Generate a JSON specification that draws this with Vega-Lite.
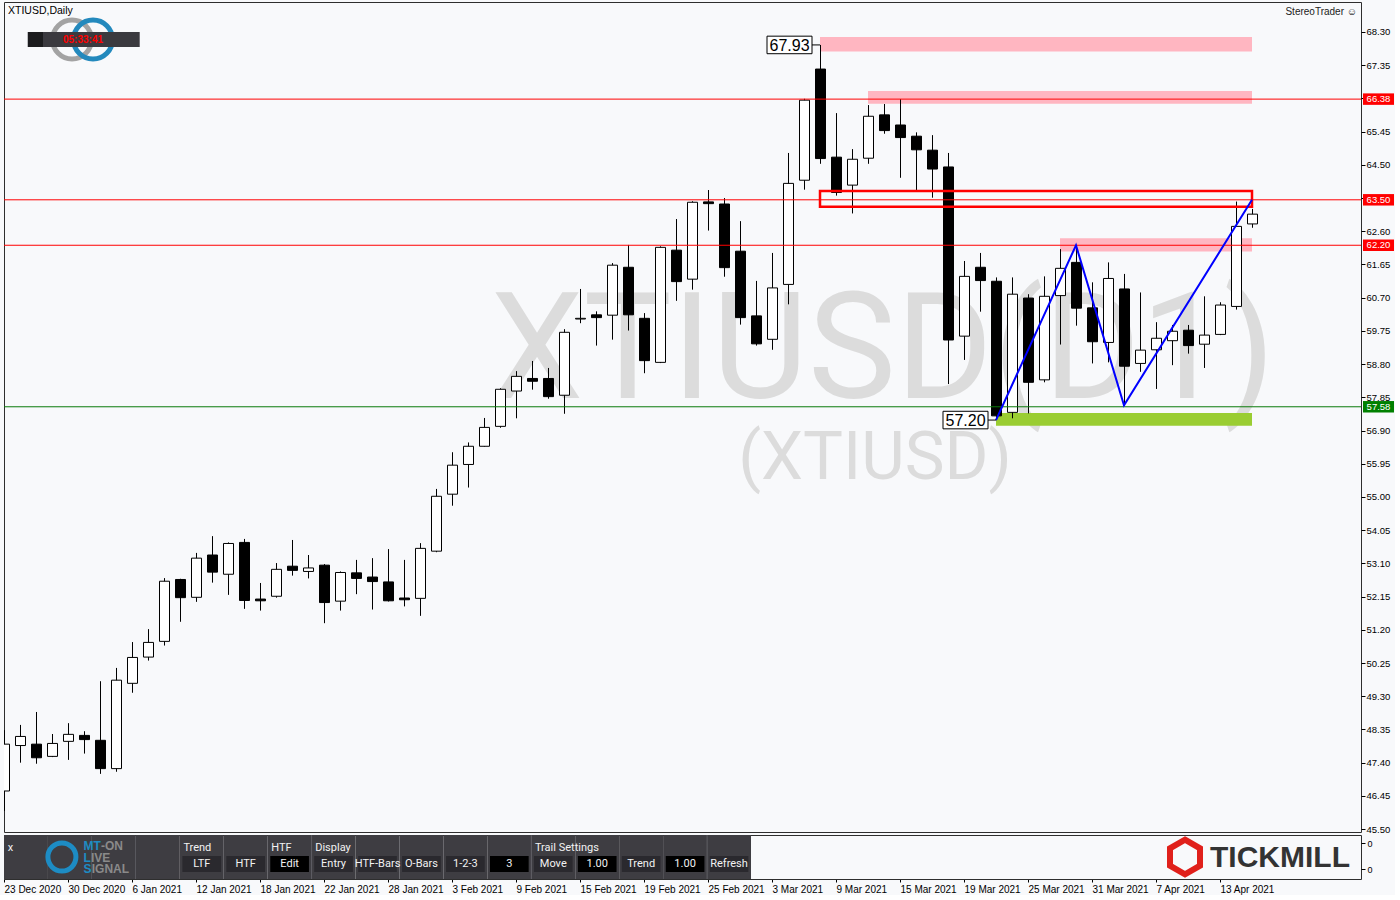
{
  "$schema": "https://vega.github.io/schema/vega-lite/v6.json",
  "background": "#f8f9fb",
  "padding": {"left": 3, "top": 1, "right": 0, "bottom": 0},
  "config": {"font": "Liberation Sans", "view": {"stroke": "#2e2e2e", "strokeWidth": 1}},
  "spacing": 3,
  "bounds": "flush",
  "datasets": {
    "candles": [
      {"date": "23 Dec 2020", "open": 46.59, "high": 48.33, "low": 46.02, "close": 47.93},
      {"date": "24 Dec 2020", "open": 47.89, "high": 48.48, "low": 47.40, "close": 48.15},
      {"date": "28 Dec 2020", "open": 47.93, "high": 48.85, "low": 47.37, "close": 47.54},
      {"date": "29 Dec 2020", "open": 47.58, "high": 48.22, "low": 47.56, "close": 47.95},
      {"date": "30 Dec 2020", "open": 48.01, "high": 48.53, "low": 47.48, "close": 48.21},
      {"date": "31 Dec 2020", "open": 48.18, "high": 48.30, "low": 47.66, "close": 48.06},
      {"date": "4 Jan 2021", "open": 48.04, "high": 49.73, "low": 47.08, "close": 47.23},
      {"date": "5 Jan 2021", "open": 47.23, "high": 50.11, "low": 47.14, "close": 49.76},
      {"date": "6 Jan 2021", "open": 49.67, "high": 50.85, "low": 49.40, "close": 50.41},
      {"date": "7 Jan 2021", "open": 50.42, "high": 51.22, "low": 50.32, "close": 50.84},
      {"date": "8 Jan 2021", "open": 50.87, "high": 52.68, "low": 50.75, "close": 52.59},
      {"date": "11 Jan 2021", "open": 52.64, "high": 52.66, "low": 51.43, "close": 52.12},
      {"date": "12 Jan 2021", "open": 52.13, "high": 53.40, "low": 52.00, "close": 53.25},
      {"date": "13 Jan 2021", "open": 53.34, "high": 53.88, "low": 52.55, "close": 52.85},
      {"date": "14 Jan 2021", "open": 52.79, "high": 53.70, "low": 52.20, "close": 53.67},
      {"date": "15 Jan 2021", "open": 53.70, "high": 53.80, "low": 51.80, "close": 52.04},
      {"date": "18 Jan 2021", "open": 52.08, "high": 52.54, "low": 51.75, "close": 52.03},
      {"date": "19 Jan 2021", "open": 52.16, "high": 53.11, "low": 52.12, "close": 52.93},
      {"date": "20 Jan 2021", "open": 53.02, "high": 53.77, "low": 52.75, "close": 52.90},
      {"date": "21 Jan 2021", "open": 52.87, "high": 53.34, "low": 52.67, "close": 52.97},
      {"date": "22 Jan 2021", "open": 53.05, "high": 53.08, "low": 51.39, "close": 51.98},
      {"date": "25 Jan 2021", "open": 52.02, "high": 52.87, "low": 51.75, "close": 52.84},
      {"date": "26 Jan 2021", "open": 52.83, "high": 53.20, "low": 52.22, "close": 52.67},
      {"date": "27 Jan 2021", "open": 52.71, "high": 53.25, "low": 51.78, "close": 52.58},
      {"date": "28 Jan 2021", "open": 52.57, "high": 53.51, "low": 52.01, "close": 52.03},
      {"date": "29 Jan 2021", "open": 52.11, "high": 53.20, "low": 51.87, "close": 52.06},
      {"date": "1 Feb 2021", "open": 52.10, "high": 53.68, "low": 51.60, "close": 53.53},
      {"date": "2 Feb 2021", "open": 53.45, "high": 55.23, "low": 53.42, "close": 55.02},
      {"date": "3 Feb 2021", "open": 55.08, "high": 56.28, "low": 54.75, "close": 55.91},
      {"date": "4 Feb 2021", "open": 55.93, "high": 56.56, "low": 55.27, "close": 56.45},
      {"date": "5 Feb 2021", "open": 56.45, "high": 57.26, "low": 56.44, "close": 56.99},
      {"date": "8 Feb 2021", "open": 57.02, "high": 58.11, "low": 56.98, "close": 58.08},
      {"date": "9 Feb 2021", "open": 58.03, "high": 58.60, "low": 57.25, "close": 58.45},
      {"date": "10 Feb 2021", "open": 58.39, "high": 58.89, "low": 58.07, "close": 58.31},
      {"date": "11 Feb 2021", "open": 58.39, "high": 58.69, "low": 57.81, "close": 57.87},
      {"date": "12 Feb 2021", "open": 57.91, "high": 59.80, "low": 57.38, "close": 59.71},
      {"date": "15 Feb 2021", "open": 60.09, "high": 60.95, "low": 59.97, "close": 60.11},
      {"date": "16 Feb 2021", "open": 60.21, "high": 60.31, "low": 59.33, "close": 60.13},
      {"date": "17 Feb 2021", "open": 60.20, "high": 61.69, "low": 59.50, "close": 61.63},
      {"date": "18 Feb 2021", "open": 61.57, "high": 62.21, "low": 59.76, "close": 60.21},
      {"date": "19 Feb 2021", "open": 60.11, "high": 60.26, "low": 58.54, "close": 58.90},
      {"date": "22 Feb 2021", "open": 58.85, "high": 62.17, "low": 58.83, "close": 62.14},
      {"date": "23 Feb 2021", "open": 62.06, "high": 62.95, "low": 60.61, "close": 61.16},
      {"date": "24 Feb 2021", "open": 61.23, "high": 63.46, "low": 60.93, "close": 63.43},
      {"date": "25 Feb 2021", "open": 63.44, "high": 63.78, "low": 62.62, "close": 63.39},
      {"date": "26 Feb 2021", "open": 63.38, "high": 63.55, "low": 61.30, "close": 61.56},
      {"date": "1 Mar 2021", "open": 62.03, "high": 62.89, "low": 59.93, "close": 60.13},
      {"date": "2 Mar 2021", "open": 60.18, "high": 61.18, "low": 59.33, "close": 59.38},
      {"date": "3 Mar 2021", "open": 59.51, "high": 61.98, "low": 59.21, "close": 60.98},
      {"date": "4 Mar 2021", "open": 61.08, "high": 64.84, "low": 60.51, "close": 63.97},
      {"date": "5 Mar 2021", "open": 64.06, "high": 66.39, "low": 63.79, "close": 66.35},
      {"date": "8 Mar 2021", "open": 67.24, "high": 67.93, "low": 64.53, "close": 64.68},
      {"date": "9 Mar 2021", "open": 64.72, "high": 65.98, "low": 63.62, "close": 63.71},
      {"date": "10 Mar 2021", "open": 63.92, "high": 64.95, "low": 63.11, "close": 64.66},
      {"date": "11 Mar 2021", "open": 64.69, "high": 66.21, "low": 64.53, "close": 65.89},
      {"date": "12 Mar 2021", "open": 65.93, "high": 66.24, "low": 65.39, "close": 65.48},
      {"date": "15 Mar 2021", "open": 65.64, "high": 66.38, "low": 64.13, "close": 65.28},
      {"date": "16 Mar 2021", "open": 65.32, "high": 65.43, "low": 63.77, "close": 64.93},
      {"date": "17 Mar 2021", "open": 64.92, "high": 65.35, "low": 63.56, "close": 64.38},
      {"date": "18 Mar 2021", "open": 64.44, "high": 64.84, "low": 58.23, "close": 59.49},
      {"date": "19 Mar 2021", "open": 59.60, "high": 61.75, "low": 58.92, "close": 61.31},
      {"date": "22 Mar 2021", "open": 61.57, "high": 61.98, "low": 60.30, "close": 61.19},
      {"date": "23 Mar 2021", "open": 61.17, "high": 61.28, "low": 57.20, "close": 57.32},
      {"date": "24 Mar 2021", "open": 57.42, "high": 61.28, "low": 57.25, "close": 60.80},
      {"date": "25 Mar 2021", "open": 60.69, "high": 60.80, "low": 57.39, "close": 58.28},
      {"date": "26 Mar 2021", "open": 58.35, "high": 61.31, "low": 58.28, "close": 60.74},
      {"date": "29 Mar 2021", "open": 60.76, "high": 62.09, "low": 59.36, "close": 61.54},
      {"date": "30 Mar 2021", "open": 61.71, "high": 62.21, "low": 59.90, "close": 60.40},
      {"date": "31 Mar 2021", "open": 60.41, "high": 61.14, "low": 58.82, "close": 59.44},
      {"date": "1 Apr 2021", "open": 59.42, "high": 61.71, "low": 58.85, "close": 61.25},
      {"date": "5 Apr 2021", "open": 60.95, "high": 61.38, "low": 57.61, "close": 58.74},
      {"date": "6 Apr 2021", "open": 58.82, "high": 60.85, "low": 58.58, "close": 59.20},
      {"date": "7 Apr 2021", "open": 59.21, "high": 60.00, "low": 58.09, "close": 59.54},
      {"date": "8 Apr 2021", "open": 59.47, "high": 59.92, "low": 58.77, "close": 59.74},
      {"date": "9 Apr 2021", "open": 59.77, "high": 59.92, "low": 59.10, "close": 59.33},
      {"date": "12 Apr 2021", "open": 59.37, "high": 60.74, "low": 58.69, "close": 59.63},
      {"date": "13 Apr 2021", "open": 59.65, "high": 60.57, "low": 59.63, "close": 60.49},
      {"date": "14 Apr 2021", "open": 60.45, "high": 63.45, "low": 60.36, "close": 62.74},
      {"date": "15 Apr 2021", "open": 62.81, "high": 63.24, "low": 62.70, "close": 63.09}
    ],
    "zones": [
      {"date": "8 Mar 2021", "end": "15 Apr 2021", "lo": 67.74, "hi": 68.16, "type": "supply"},
      {"date": "11 Mar 2021", "end": "15 Apr 2021", "lo": 66.25, "hi": 66.61, "type": "supply"},
      {"date": "29 Mar 2021", "end": "15 Apr 2021", "lo": 62.02, "hi": 62.40, "type": "supply"},
      {"date": "23 Mar 2021", "end": "15 Apr 2021", "lo": 57.04, "hi": 57.40, "type": "demand"}
    ],
    "levels": [
      {"date": "23 Dec 2020", "price": 66.38, "kind": "resistance"},
      {"date": "23 Dec 2020", "price": 63.50, "kind": "resistance"},
      {"date": "23 Dec 2020", "price": 62.20, "kind": "resistance"},
      {"date": "23 Dec 2020", "price": 57.58, "kind": "support"}
    ],
    "pivots": [
      {"date": "8 Mar 2021", "price": 67.93, "label": "67.93"},
      {"date": "23 Mar 2021", "price": 57.20, "label": "57.20"}
    ],
    "zigzag": [
      {"date": "23 Mar 2021", "price": 57.20, "step": 1},
      {"date": "30 Mar 2021", "price": 62.20, "step": 2},
      {"date": "5 Apr 2021", "price": 57.62, "step": 3},
      {"date": "15 Apr 2021", "price": 63.50, "step": 4}
    ],
    "slots": [
      {"slot": "close"}, {"slot": "logo1"}, {"slot": "logo2"}, {"slot": "logo3"}, {"slot": "LTF"}, {"slot": "HTF"}, {"slot": "Edit"}, {"slot": "Entry"}, {"slot": "HTF-Bars"}, {"slot": "O-Bars"}, {"slot": "1-2-3"}, {"slot": "three"}, {"slot": "Move"}, {"slot": "move-val"}, {"slot": "Trend"}, {"slot": "trend-val"}, {"slot": "Refresh"}
    ],
    "buttons": [
      {"slot": "LTF", "label": "LTF", "kind": "button"},
      {"slot": "HTF", "label": "HTF", "kind": "button"},
      {"slot": "Edit", "label": "Edit", "kind": "value"},
      {"slot": "Entry", "label": "Entry", "kind": "button"},
      {"slot": "HTF-Bars", "label": "HTF-Bars", "kind": "button"},
      {"slot": "O-Bars", "label": "O-Bars", "kind": "button"},
      {"slot": "1-2-3", "label": "1-2-3", "kind": "button"},
      {"slot": "three", "label": "3", "kind": "value"},
      {"slot": "Move", "label": "Move", "kind": "button"},
      {"slot": "move-val", "label": "1.00", "kind": "value"},
      {"slot": "Trend", "label": "Trend", "kind": "button"},
      {"slot": "trend-val", "label": "1.00", "kind": "value"},
      {"slot": "Refresh", "label": "Refresh", "kind": "button"}
    ],
    "groups": [
      {"slot": "close", "label": "x"},
      {"slot": "LTF", "label": "Trend"},
      {"slot": "Edit", "label": "HTF"},
      {"slot": "Entry", "label": "Display"},
      {"slot": "Move", "label": "Trail Settings"}
    ],
    "separators": [{"slot": "Entry"}, {"slot": "Move"}, {"slot": "Refresh"}]
  },
  "vconcat": [
    {
      "width": 1357,
      "height": 830,
      "resolve": {"scale": {"color": "independent"}},
      "encoding": {
        "x": {
          "field": "date", "type": "ordinal",
          "scale": {"type": "point", "padding": 0, "range": [0, 1248],
            "domain": ["23 Dec 2020","24 Dec 2020","28 Dec 2020","29 Dec 2020","30 Dec 2020","31 Dec 2020","4 Jan 2021","5 Jan 2021","6 Jan 2021","7 Jan 2021","8 Jan 2021","11 Jan 2021","12 Jan 2021","13 Jan 2021","14 Jan 2021","15 Jan 2021","18 Jan 2021","19 Jan 2021","20 Jan 2021","21 Jan 2021","22 Jan 2021","25 Jan 2021","26 Jan 2021","27 Jan 2021","28 Jan 2021","29 Jan 2021","1 Feb 2021","2 Feb 2021","3 Feb 2021","4 Feb 2021","5 Feb 2021","8 Feb 2021","9 Feb 2021","10 Feb 2021","11 Feb 2021","12 Feb 2021","15 Feb 2021","16 Feb 2021","17 Feb 2021","18 Feb 2021","19 Feb 2021","22 Feb 2021","23 Feb 2021","24 Feb 2021","25 Feb 2021","26 Feb 2021","1 Mar 2021","2 Mar 2021","3 Mar 2021","4 Mar 2021","5 Mar 2021","8 Mar 2021","9 Mar 2021","10 Mar 2021","11 Mar 2021","12 Mar 2021","15 Mar 2021","16 Mar 2021","17 Mar 2021","18 Mar 2021","19 Mar 2021","22 Mar 2021","23 Mar 2021","24 Mar 2021","25 Mar 2021","26 Mar 2021","29 Mar 2021","30 Mar 2021","31 Mar 2021","1 Apr 2021","5 Apr 2021","6 Apr 2021","7 Apr 2021","8 Apr 2021","9 Apr 2021","12 Apr 2021","13 Apr 2021","14 Apr 2021","15 Apr 2021"]},
          "axis": {
            "orient": "bottom", "offset": 47, "title": null, "domain": false, "grid": false,
            "values": ["23 Dec 2020","30 Dec 2020","6 Jan 2021","12 Jan 2021","18 Jan 2021","22 Jan 2021","28 Jan 2021","3 Feb 2021","9 Feb 2021","15 Feb 2021","19 Feb 2021","25 Feb 2021","3 Mar 2021","9 Mar 2021","15 Mar 2021","19 Mar 2021","25 Mar 2021","31 Mar 2021","7 Apr 2021","13 Apr 2021"],
            "labelAngle": 0, "labelAlign": "left", "labelBaseline": "top", "labelPadding": 2, "labelFontSize": 10, "labelColor": "#000000",
            "labelOverlap": false, "labelFlush": false, "tickSize": 3, "tickColor": "#000000"
          }
        },
        "y": {
          "field": "price", "type": "quantitative", "title": null,
          "scale": {"domain": [45.417, 69.158], "nice": false, "zero": false},
          "axis": {
            "orient": "right", "title": null, "domain": false, "grid": false,
            "values": [45.5,46.45,47.4,48.35,49.3,50.25,51.2,52.15,53.1,54.05,55,55.95,56.9,57.85,58.8,59.75,60.7,61.65,62.6,63.55,64.5,65.45,66.4,67.35,68.3],
            "format": ".2f", "labelFontSize": 9.5, "labelColor": "#000000", "labelPadding": 1,
            "labelOverlap": false, "labelFlush": false, "tickSize": 4, "tickColor": "#000000"
          }
        }
      },
      "layer": [
        {
          "data": {"values": [{"date": "12 Mar 2021", "price": 57.82, "label": "XTIUSD(D1)"}]},
          "mark": {"type": "text", "font": "Roboto", "fontSize": 148, "color": "#dcdcdc", "align": "center", "baseline": "alphabetic", "dx": -1},
          "encoding": {"text": {"field": "label"}}
        },
        {
          "data": {"values": [{"date": "11 Mar 2021", "price": 55.5, "label": "(XTIUSD)"}]},
          "mark": {"type": "text", "font": "Roboto", "fontSize": 67, "color": "#dcdcdc", "align": "center", "baseline": "alphabetic", "dx": 7},
          "encoding": {"text": {"field": "label"}}
        },
        {
          "data": {"name": "zones"},
          "mark": {"type": "rect"},
          "encoding": {
            "x2": {"field": "end"},
            "y": {"field": "lo", "type": "quantitative", "title": null},
            "y2": {"field": "hi"},
            "color": {"field": "type", "type": "nominal", "legend": null, "scale": {"domain": ["supply", "demand"], "range": ["#ffb6c1", "#9acd32"]}}
          }
        },
        {
          "data": {"name": "candles"},
          "mark": {"type": "rule", "color": "#000000", "strokeWidth": 1, "xOffset": 0.5, "clip": true},
          "encoding": {
            "y": {"field": "low", "type": "quantitative", "title": null},
            "y2": {"field": "high"}
          }
        },
        {
          "data": {"name": "candles"},
          "mark": {"type": "bar", "size": 10, "stroke": "#000000", "strokeWidth": 1, "xOffset": 0.5, "clip": true},
          "encoding": {
            "y": {"field": "open", "type": "quantitative", "title": null},
            "y2": {"field": "close"},
            "fill": {"condition": {"test": "datum.close >= datum.open", "value": "#ffffff"}, "value": "#000000"}
          }
        },
        {
          "data": {"name": "levels"},
          "mark": {"type": "rule", "strokeWidth": 1},
          "encoding": {
            "x2": {"value": "width"},
            "color": {"field": "kind", "type": "nominal", "legend": null, "scale": {"domain": ["resistance", "support"], "range": ["#ff0000", "#0a7a0a"]}}
          }
        },
        {
          "data": {"values": [{"date": "8 Mar 2021", "end": "15 Apr 2021", "lo": 63.30, "hi": 63.75}]},
          "mark": {"type": "rect", "filled": false, "stroke": "#ff0000", "strokeWidth": 2.5},
          "encoding": {
            "x2": {"field": "end"},
            "y": {"field": "lo", "type": "quantitative", "title": null},
            "y2": {"field": "hi"}
          }
        },
        {
          "data": {"name": "zigzag"},
          "mark": {"type": "line", "color": "#0000ff", "strokeWidth": 2},
          "encoding": {"order": {"field": "step", "type": "quantitative"}}
        },
        {
          "data": {"name": "pivots"},
          "mark": {"type": "rule", "color": "#000000", "strokeWidth": 1, "xOffset": -8, "x2Offset": 0},
          "encoding": {"x2": {"field": "date"}}
        },
        {
          "data": {"name": "pivots"},
          "mark": {"type": "point", "shape": "M-1,-0.39H1V0.39H-1Z", "size": 2025, "filled": true, "fill": "#ffffff", "stroke": "#000000", "strokeWidth": 1, "opacity": 1, "xOffset": -30.5}
        },
        {
          "data": {"name": "pivots"},
          "mark": {"type": "text", "fontSize": 16, "color": "#000000", "align": "center", "baseline": "middle", "dx": -30.5, "dy": 1},
          "encoding": {"text": {"field": "label"}}
        },
        {
          "data": {"name": "levels"},
          "mark": {"type": "point", "shape": "M-1,-0.37H1V0.37H-1Z", "size": 961, "filled": true, "opacity": 1, "xOffset": 17.5},
          "encoding": {
            "x": {"value": "width"},
            "color": {"field": "kind", "type": "nominal", "legend": null, "scale": {"domain": ["resistance", "support"], "range": ["#ff0000", "#008000"]}}
          }
        },
        {
          "data": {"name": "levels"},
          "mark": {"type": "text", "fontSize": 9.5, "color": "#ffffff", "align": "center", "baseline": "middle", "dx": 17.5},
          "encoding": {
            "x": {"value": "width"},
            "text": {"field": "price", "type": "quantitative", "format": ".2f"}
          }
        },
        {
          "data": {"values": [{"date": "23 Dec 2020", "price": 68.89, "label": "XTIUSD,Daily"}]},
          "mark": {"type": "text", "fontSize": 10.5, "color": "#000000", "align": "left", "baseline": "middle", "dx": 4},
          "encoding": {"text": {"field": "label"}}
        },
        {
          "data": {"values": [{"date": "30 Dec 2020", "price": 68.085}]},
          "mark": {"type": "point", "shape": "circle", "size": 1521, "filled": false, "stroke": "#a3a3a3", "strokeWidth": 5, "opacity": 1, "xOffset": 4}
        },
        {
          "data": {"values": [{"date": "4 Jan 2021", "price": 68.085}]},
          "mark": {"type": "point", "shape": "circle", "size": 1521, "filled": false, "stroke": "#2389bd", "strokeWidth": 5, "opacity": 1, "xOffset": -7}
        },
        {
          "data": {"values": [{"date": "31 Dec 2020", "price": 68.085}]},
          "mark": {"type": "point", "shape": "M-1,-0.134H1V0.134H-1Z", "size": 12544, "filled": true, "fill": "#3b3a3f", "opacity": 1, "strokeWidth": 0, "xOffset": -0.3}
        },
        {
          "data": {"values": [{"date": "31 Dec 2020", "price": 68.085}]},
          "mark": {"type": "point", "shape": "square", "size": 225, "filled": true, "fill": "#1c1c1e", "opacity": 1, "strokeWidth": 0, "xOffset": -48.5}
        },
        {
          "data": {"values": [{"date": "31 Dec 2020", "price": 68.085, "label": "05:33:41"}]},
          "mark": {"type": "text", "fontSize": 10, "fontWeight": "bold", "color": "#ff0000", "align": "center", "baseline": "middle", "dx": -1},
          "encoding": {"text": {"field": "label"}}
        },
        {
          "data": {"values": [{"price": 68.88, "label": "StereoTrader ☺"}]},
          "mark": {"type": "text", "fontSize": 10, "color": "#222222", "align": "right", "baseline": "middle", "dx": -4},
          "encoding": {"x": {"value": "width"}, "text": {"field": "label"}}
        }
      ]
    },
    {
      "width": 1357,
      "height": 44,
      "resolve": {"scale": {"x": "independent", "y": "independent", "color": "independent"}},
      "layer": [
        {
          "data": {"name": "slots"},
          "mark": {"type": "rect", "color": "#3e3d42"},
          "encoding": {
            "x": {"field": "slot", "type": "nominal", "axis": null,
              "scale": {"type": "band", "range": [0, 747], "paddingInner": 0, "paddingOuter": 0, "domain": ["close","logo1","logo2","logo3","LTF","HTF","Edit","Entry","HTF-Bars","O-Bars","1-2-3","three","Move","move-val","Trend","trend-val","Refresh"]}}
          }
        },
        {
          "data": {"name": "separators"},
          "mark": {"type": "rule", "color": "#5c5b61", "strokeWidth": 1},
          "encoding": {
            "x": {"field": "slot", "type": "nominal", "axis": null, "bandPosition": 0,
              "scale": {"type": "band", "range": [0, 747], "paddingInner": 0, "paddingOuter": 0, "domain": ["close","logo1","logo2","logo3","LTF","HTF","Edit","Entry","HTF-Bars","O-Bars","1-2-3","three","Move","move-val","Trend","trend-val","Refresh"]}}
          }
        },
        {
          "data": {"name": "buttons"},
          "mark": {"type": "rect"},
          "encoding": {
            "x": {"field": "slot", "type": "nominal", "axis": null,
              "scale": {"type": "band", "range": [0, 747], "paddingInner": 0.12, "paddingOuter": 0.06, "domain": ["close","logo1","logo2","logo3","LTF","HTF","Edit","Entry","HTF-Bars","O-Bars","1-2-3","three","Move","move-val","Trend","trend-val","Refresh"]}},
            "y": {"datum": "bottom", "type": "nominal", "axis": null, "scale": {"type": "band", "domain": ["top", "bottom"], "paddingInner": 0, "paddingOuter": 0.375, "align": 0.4167}},
            "color": {"field": "kind", "type": "nominal", "legend": null, "scale": {"domain": ["button", "value"], "range": ["#2a292e", "#000000"]}}
          }
        },
        {
          "data": {"name": "buttons"},
          "mark": {"type": "text", "fontSize": 11, "color": "#f2f2f2", "align": "center", "baseline": "middle", "font": "Roboto"},
          "encoding": {
            "x": {"field": "slot", "type": "nominal", "axis": null,
              "scale": {"type": "band", "range": [0, 747], "paddingInner": 0.12, "paddingOuter": 0.06, "domain": ["close","logo1","logo2","logo3","LTF","HTF","Edit","Entry","HTF-Bars","O-Bars","1-2-3","three","Move","move-val","Trend","trend-val","Refresh"]}},
            "y": {"datum": "bottom", "type": "nominal", "axis": null, "scale": {"type": "band", "domain": ["top", "bottom"], "paddingInner": 0, "paddingOuter": 0.375, "align": 0.4167}},
            "text": {"field": "label"}
          }
        },
        {
          "data": {"name": "groups"},
          "mark": {"type": "text", "fontSize": 11, "color": "#f2f2f2", "align": "left", "baseline": "middle", "font": "Roboto", "dx": 1},
          "encoding": {
            "x": {"field": "slot", "type": "nominal", "axis": null, "bandPosition": 0,
              "scale": {"type": "band", "range": [0, 747], "paddingInner": 0.12, "paddingOuter": 0.06, "domain": ["close","logo1","logo2","logo3","LTF","HTF","Edit","Entry","HTF-Bars","O-Bars","1-2-3","three","Move","move-val","Trend","trend-val","Refresh"]}},
            "y": {"datum": "top", "type": "nominal", "axis": null, "scale": {"type": "band", "domain": ["top", "bottom"], "paddingInner": 0, "paddingOuter": 0.375, "align": 0.4167}},
            "text": {"field": "label"}
          }
        },
        {
          "data": {"values": [{"slot": "logo1"}]},
          "mark": {"type": "point", "shape": "circle", "size": 784, "filled": false, "stroke": "#1d8cc4", "strokeWidth": 5, "opacity": 1, "xOffset": -8},
          "encoding": {
            "x": {"field": "slot", "type": "nominal", "axis": null,
              "scale": {"type": "band", "range": [0, 747], "paddingInner": 0.12, "paddingOuter": 0.06, "domain": ["close","logo1","logo2","logo3","LTF","HTF","Edit","Entry","HTF-Bars","O-Bars","1-2-3","three","Move","move-val","Trend","trend-val","Refresh"]}}
          }
        },
        {
          "data": {"values": [{"slot": "logo2", "label": "MT"}]},
          "mark": {"type": "text", "fontSize": 12, "fontWeight": "bold", "color": "#1d8cc4", "align": "left", "baseline": "middle", "dx": -11, "dy": -11},
          "encoding": {
            "x": {"field": "slot", "type": "nominal", "axis": null, "bandPosition": 0,
              "scale": {"type": "band", "range": [0, 747], "paddingInner": 0.12, "paddingOuter": 0.06, "domain": ["close","logo1","logo2","logo3","LTF","HTF","Edit","Entry","HTF-Bars","O-Bars","1-2-3","three","Move","move-val","Trend","trend-val","Refresh"]}},
            "text": {"field": "label"}
          }
        },
        {
          "data": {"values": [{"slot": "logo2", "label": "-ON"}]},
          "mark": {"type": "text", "fontSize": 12, "fontWeight": "bold", "color": "#8a8a8a", "align": "left", "baseline": "middle", "dx": 6.5, "dy": -11},
          "encoding": {
            "x": {"field": "slot", "type": "nominal", "axis": null, "bandPosition": 0,
              "scale": {"type": "band", "range": [0, 747], "paddingInner": 0.12, "paddingOuter": 0.06, "domain": ["close","logo1","logo2","logo3","LTF","HTF","Edit","Entry","HTF-Bars","O-Bars","1-2-3","three","Move","move-val","Trend","trend-val","Refresh"]}},
            "text": {"field": "label"}
          }
        },
        {
          "data": {"values": [{"slot": "logo2", "label": "L"}]},
          "mark": {"type": "text", "fontSize": 12, "fontWeight": "bold", "color": "#1d8cc4", "align": "left", "baseline": "middle", "dx": -11, "dy": 0.5},
          "encoding": {
            "x": {"field": "slot", "type": "nominal", "axis": null, "bandPosition": 0,
              "scale": {"type": "band", "range": [0, 747], "paddingInner": 0.12, "paddingOuter": 0.06, "domain": ["close","logo1","logo2","logo3","LTF","HTF","Edit","Entry","HTF-Bars","O-Bars","1-2-3","three","Move","move-val","Trend","trend-val","Refresh"]}},
            "text": {"field": "label"}
          }
        },
        {
          "data": {"values": [{"slot": "logo2", "label": "IVE"}]},
          "mark": {"type": "text", "fontSize": 12, "fontWeight": "bold", "color": "#8a8a8a", "align": "left", "baseline": "middle", "dx": -3.5, "dy": 0.5},
          "encoding": {
            "x": {"field": "slot", "type": "nominal", "axis": null, "bandPosition": 0,
              "scale": {"type": "band", "range": [0, 747], "paddingInner": 0.12, "paddingOuter": 0.06, "domain": ["close","logo1","logo2","logo3","LTF","HTF","Edit","Entry","HTF-Bars","O-Bars","1-2-3","three","Move","move-val","Trend","trend-val","Refresh"]}},
            "text": {"field": "label"}
          }
        },
        {
          "data": {"values": [{"slot": "logo2", "label": "S"}]},
          "mark": {"type": "text", "fontSize": 12, "fontWeight": "bold", "color": "#1d8cc4", "align": "left", "baseline": "middle", "dx": -11, "dy": 12},
          "encoding": {
            "x": {"field": "slot", "type": "nominal", "axis": null, "bandPosition": 0,
              "scale": {"type": "band", "range": [0, 747], "paddingInner": 0.12, "paddingOuter": 0.06, "domain": ["close","logo1","logo2","logo3","LTF","HTF","Edit","Entry","HTF-Bars","O-Bars","1-2-3","three","Move","move-val","Trend","trend-val","Refresh"]}},
            "text": {"field": "label"}
          }
        },
        {
          "data": {"values": [{"slot": "logo2", "label": "IGNAL"}]},
          "mark": {"type": "text", "fontSize": 12, "fontWeight": "bold", "color": "#8a8a8a", "align": "left", "baseline": "middle", "dx": -2.8, "dy": 12},
          "encoding": {
            "x": {"field": "slot", "type": "nominal", "axis": null, "bandPosition": 0,
              "scale": {"type": "band", "range": [0, 747], "paddingInner": 0.12, "paddingOuter": 0.06, "domain": ["close","logo1","logo2","logo3","LTF","HTF","Edit","Entry","HTF-Bars","O-Bars","1-2-3","three","Move","move-val","Trend","trend-val","Refresh"]}},
            "text": {"field": "label"}
          }
        },
        {
          "data": {"values": [{"part": "icon"}]},
          "mark": {"type": "point", "shape": "M0,-1L0.866,-0.5L0.866,0.5L0,1L-0.866,0.5L-0.866,-0.5Z", "size": 1200, "filled": false, "stroke": "#e0201b", "strokeWidth": 6, "opacity": 1},
          "encoding": {
            "x": {"field": "part", "type": "nominal", "axis": null, "scale": {"type": "band", "domain": ["icon", "name"], "range": [1133.5, 1323.5], "paddingInner": 0, "paddingOuter": 0}}
          }
        },
        {
          "data": {"values": [{"part": "name", "label": "TICKMILL"}]},
          "mark": {"type": "text", "fontSize": 30, "fontWeight": "bold", "color": "#333333", "align": "center", "baseline": "middle", "dy": 1},
          "encoding": {
            "x": {"field": "part", "type": "nominal", "axis": null, "scale": {"type": "band", "domain": ["icon", "name"], "range": [1133.5, 1323.5], "paddingInner": 0, "paddingOuter": 0}},
            "text": {"field": "label"}
          }
        },
        {
          "data": {"values": [{"level": 0}]},
          "mark": {"type": "point", "opacity": 0},
          "encoding": {
            "y": {"field": "level", "type": "quantitative", "scale": {"domain": [0, 1], "nice": false, "zero": false},
              "axis": {"orient": "right", "title": null, "domain": false, "grid": false, "values": [0.227, 0.818], "labelExpr": "'0'", "labelFontSize": 9, "labelColor": "#000000", "tickSize": 4, "tickColor": "#000000", "labelPadding": 2}}
          }
        }
      ]
    }
  ]
}
